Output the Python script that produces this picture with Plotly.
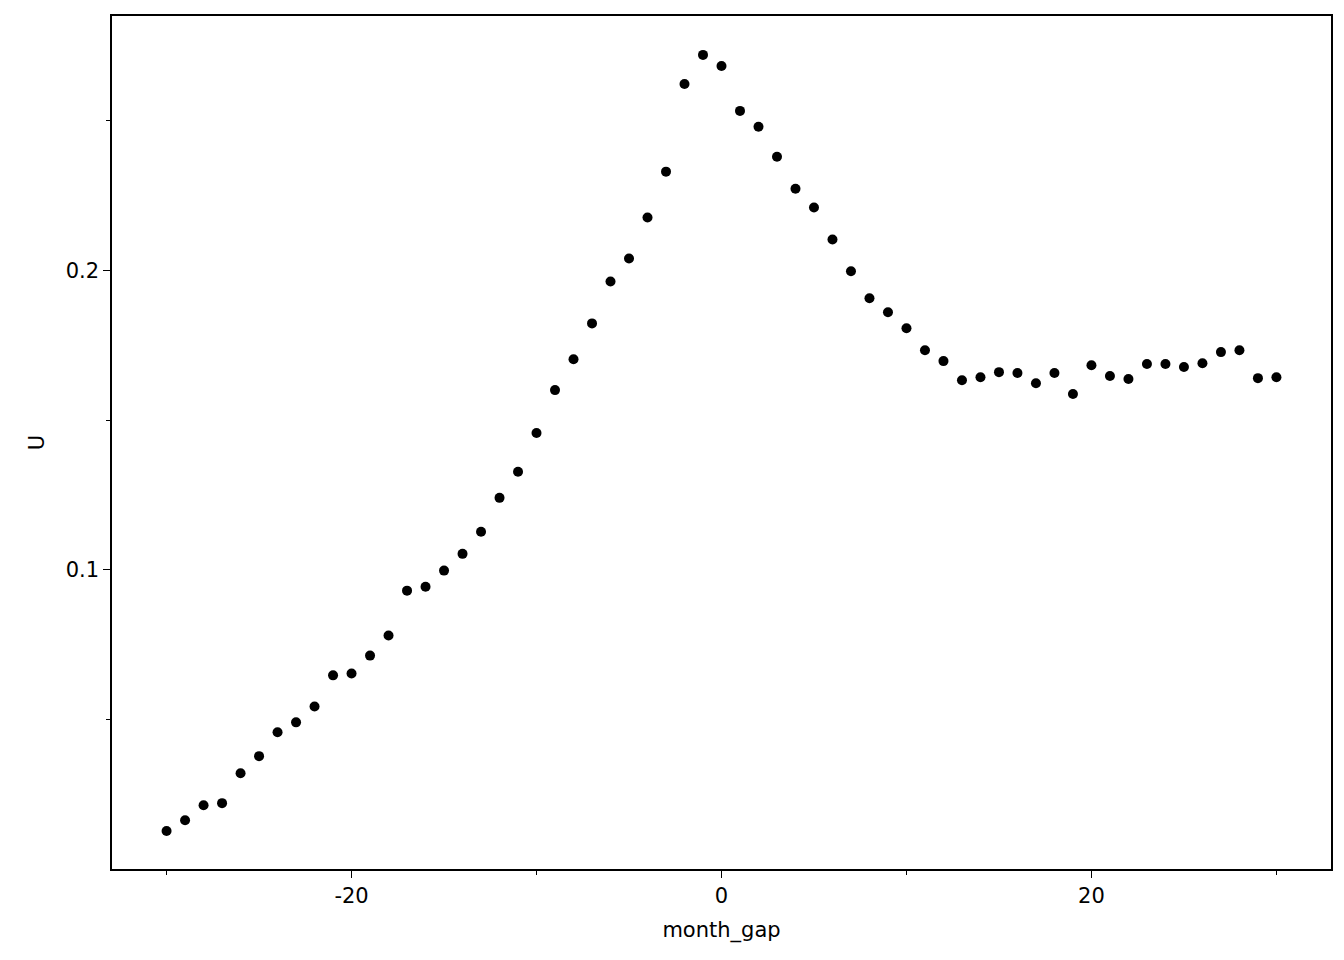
import plotly.graph_objects as go

# month gap vs U
month_gap = list(range(-30, 31))
u_values = [0.0127, 0.0163, 0.0213, 0.0220, 0.0320, 0.0377, 0.0457, 0.0490, 0.0543, 0.0647,
            0.0653, 0.0713, 0.0780, 0.0930, 0.0943, 0.0997, 0.1053, 0.1127, 0.1240, 0.1327,
            0.1457, 0.1600, 0.1703, 0.1823, 0.1963, 0.2040, 0.2177, 0.2330, 0.2623, 0.2720,
            0.2683, 0.2533, 0.2480, 0.2380, 0.2273, 0.2210, 0.2103, 0.1997, 0.1907, 0.1860,
            0.1807, 0.1733, 0.1697, 0.1633, 0.1643, 0.1660, 0.1657, 0.1623, 0.1657, 0.1587,
            0.1683, 0.1647, 0.1637, 0.1687, 0.1687, 0.1677, 0.1690, 0.1727, 0.1733, 0.1640,
            0.1643]
x_ticks = [-20, 0, 20]
x_labels = ["-20", "0", "20"]

fig = go.Figure(go.Scatter(x=month_gap, y=u_values, mode="markers",
                           marker=dict(color="black", size=10)))

axis_style = dict(showgrid=False, zeroline=False, showline=True, mirror=True,
                  linecolor="black", linewidth=1.5, ticks="outside", ticklen=7,
                  tickcolor="black", tickfont=dict(size=21, color="black"))

fig.update_xaxes(range=[-32.95, 32.95], tickvals=x_ticks, ticktext=x_labels,
                 title=dict(text="month_gap", font=dict(size=21, color="black")),
                 minor=dict(tickvals=[-30, -10, 10, 30], ticks="outside", ticklen=4, tickcolor="black"),
                 **axis_style)
fig.update_yaxes(range=[0.0, 0.285], tickvals=[0.1, 0.2], ticktext=["0.1", "0.2"],
                 title=dict(text="U", font=dict(size=21, color="black")),
                 minor=dict(tickvals=[0.05, 0.15, 0.25], ticks="outside", ticklen=4, tickcolor="black"),
                 **axis_style)

fig.update_layout(width=1344, height=960, plot_bgcolor="white", paper_bgcolor="white",
                  showlegend=False, font=dict(family="DejaVu Sans"),
                  margin=dict(l=104, r=21, t=6, b=99))

fig.write_html("out.html")
